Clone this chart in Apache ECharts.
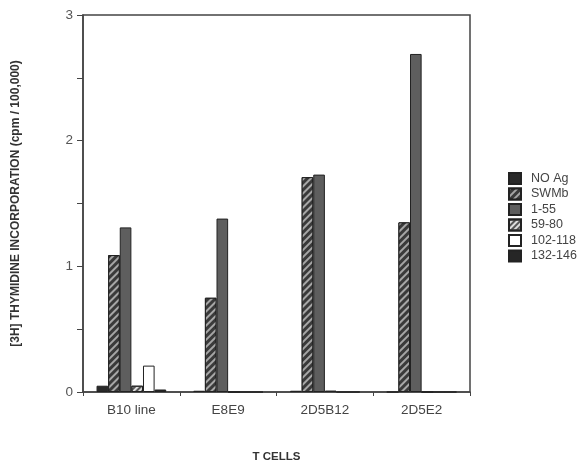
<!DOCTYPE html>
<html>
<head>
<meta charset="utf-8">
<script src="https://cdn.jsdelivr.net/npm/echarts@6/dist/echarts.min.js"></script>
<style>
  html, body { margin: 0; padding: 0; background: #fff; }
  #chart { width: 584px; height: 466px; }
</style>
</head>
<body>
<div id="chart"></div>
<script>
// T cell lines
const categories = ["B10 line", "E8E9", "2D5B12", "2D5E2"];
// antigens (legend)
const antigenNames = ["NO Ag", "SWMb", "1-55", "59-80", "102-118", "132-146"];
// cpm / 100,000
const noAg = [0.05, 0.01, 0.01, 0];
const swmb = [1.09, 0.75, 1.71, 1.35];
const p1_55 = [1.31, 1.38, 1.73, 2.69];
const p59_80 = [0.05, 0, 0.01, 0];
const p102_118 = [0.21, 0, 0, 0];
const p132_146 = [0.02, 0, 0, 0];
const seriesValues = [noAg, swmb, p1_55, p59_80, p102_118, p132_146];

const chart = echarts.init(document.getElementById("chart"));

// bar styles, one per antigen
const styles = [
  { color: "#2a2a2a" },
  { color: "#3a3a3a", decal: { color: "rgba(255,255,255,0.55)", dashArrayX: [1, 0], dashArrayY: [2, 3], symbolSize: 1, rotation: -Math.PI / 4 } },
  { color: "#5e5e5e" },
  { color: "#dcdcdc", decal: { color: "#555", dashArrayX: [1, 0], dashArrayY: [2, 2], symbolSize: 1, rotation: -Math.PI / 4 } },
  { color: "#ffffff" },
  { color: "#262626" }
];

const series = antigenNames.map((name, i) => ({
  name: name,
  type: "bar",
  data: seriesValues[i],
  barGap: "0%",
  barCategoryGap: "28%",
  itemStyle: Object.assign({ borderColor: "#222", borderWidth: 1 }, styles[i]),
  emphasis: { disabled: true }
}));

const option = {
  backgroundColor: "#fff",
  animation: false,
  grid: {
    left: 83, right: 114, top: 15, bottom: 74,
    show: true, borderColor: "#444", borderWidth: 1.5,
    containLabel: false, outerBoundsMode: "none"
  },
  legend: {
    orient: "vertical",
    left: 503,
    top: 167,
    itemWidth: 12,
    itemHeight: 11,
    itemGap: 2.5,
    icon: "rect",
    selectedMode: false,
    textStyle: { color: "#444", fontSize: 12.5, fontFamily: "Liberation Sans", padding: [0, 0, 0, 5] }
  },
  xAxis: {
    type: "category",
    data: categories,
    name: "T CELLS",
    nameLocation: "middle",
    nameGap: 59,
    nameTextStyle: { color: "#333", fontSize: 11.5, fontWeight: "bold", fontFamily: "Liberation Sans" },
    axisLine: { lineStyle: { color: "#444", width: 1.5 } },
    axisTick: { show: true, length: 4, lineStyle: { color: "#444" } },
    axisLabel: { color: "#444", fontSize: 13.5, margin: 11, fontFamily: "Liberation Sans" }
  },
  yAxis: {
    type: "value",
    min: 0,
    max: 3,
    interval: 0.5,
    name: "[3H] THYMIDINE INCORPORATION (cpm / 100,000)",
    nameLocation: "middle",
    nameGap: 61,
    nameTextStyle: { color: "#333", fontSize: 12, fontWeight: "bold", fontFamily: "Liberation Sans" },
    splitLine: { show: false },
    axisLine: { show: true, lineStyle: { color: "#444", width: 1.5 } },
    axisTick: { show: true, length: 6, lineStyle: { color: "#444" } },
    axisLabel: {
      color: "#555",
      fontSize: 13.5,
      margin: 10,
      fontFamily: "Liberation Sans",
      formatter: v => (Number.isInteger(v) ? String(v) : "")
    }
  },
  series: series
};

chart.setOption(option);
</script>
</body>
</html>
